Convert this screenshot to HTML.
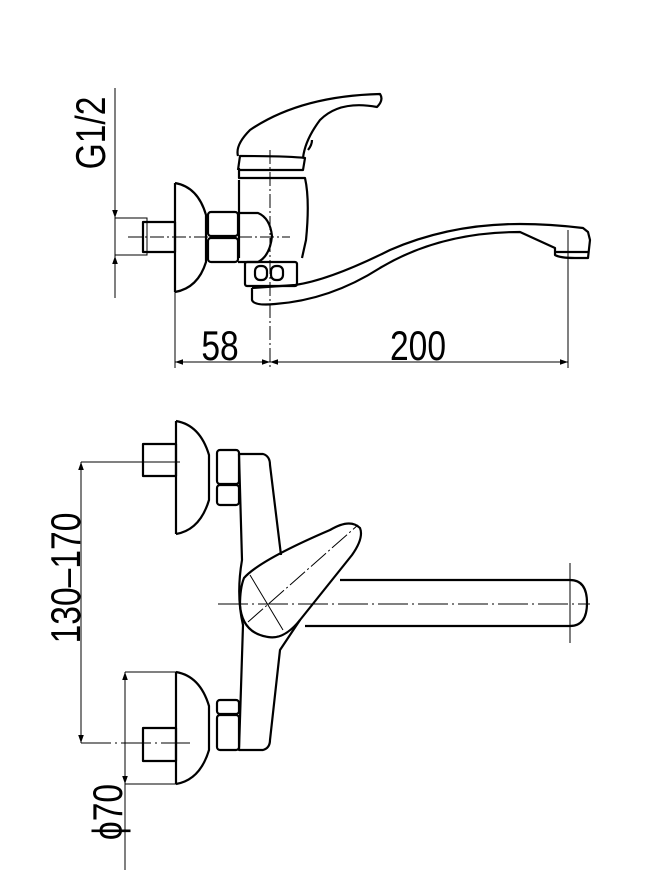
<!DOCTYPE html>
<html><head><style>html,body{margin:0;padding:0;background:#fff}svg{display:block}</style></head><body>
<svg width="670" height="894" viewBox="0 0 670 894" xmlns="http://www.w3.org/2000/svg" font-family="'Liberation Sans', sans-serif">
<defs>
<marker id="a" viewBox="0 0 10 10" refX="10" refY="5" markerWidth="14" markerHeight="8" markerUnits="userSpaceOnUse" orient="auto-start-reverse"><path d="M0,1.5L10,5L0,8.5z" fill="#000"/></marker>
</defs>
<g fill="none" stroke="#000" stroke-width="1">
<line x1="115" y1="88" x2="115" y2="298"/>
<line x1="115" y1="195" x2="115" y2="218" marker-end="url(#a)"/>
<line x1="115" y1="280" x2="115" y2="256" marker-end="url(#a)"/>
<rect x="115" y="218" width="32" height="37"/>
<line x1="128" y1="237" x2="290" y2="237" stroke-dasharray="14,3,2,3"/>
<line x1="270" y1="150" x2="270" y2="370" stroke-dasharray="14,3,2,3"/>
<line x1="175" y1="292" x2="175" y2="368"/>
<line x1="568" y1="230" x2="568" y2="368"/>
<line x1="175" y1="362" x2="270" y2="362" marker-start="url(#a)" marker-end="url(#a)"/>
<line x1="270" y1="362" x2="568" y2="362" marker-start="url(#a)" marker-end="url(#a)"/>
</g>
<g fill="none" stroke="#000" stroke-width="2.2" stroke-linejoin="round">
<rect x="143" y="222" width="32" height="30"/>
<path d="M175,183 L175,292 M175,183 Q198,187 206,215 L206,262 Q198,288 175,292"/>
<rect x="208" y="212" width="30" height="24" rx="3"/>
<rect x="208" y="238" width="30" height="24" rx="3"/>
<path d="M238,213 L258,213 Q270,218 272,236 Q270,256 258,262 L238,262"/>
<path d="M239,180 L239,258 M239,168 L239,178 L305,178 Q310,200 306,240 L302,258"/>
<path d="M240,170 L303,170 L305,158 Q290,156 240,156 L238,170"/>
<path d="M238,156 Q235,145 250,130 Q300,96 380,94 Q384,100 377,107 Q340,100 320,120 Q305,140 303,158"/>
<path d="M308,150 Q312,145 312,140"/>
<rect x="245" y="262" width="52" height="24" rx="2"/>
<rect x="255" y="266" width="12" height="14" rx="5"/>
<rect x="271" y="266" width="12" height="14" rx="5"/>
<path d="M252,288 L252,300 Q254,306 275,304 Q330,300 380,268 Q440,232 520,232 L555,248 L555,255 Q560,258 575,258 L588,258 L590,240 L588,232 L583,228 Q550,224 520,224 Q450,224 390,250 Q330,280 295,285 L252,288"/>
<path d="M555,252 L588,252"/>
<rect x="143" y="444" width="33" height="32"/>
<path d="M176,421 L176,534 M176,421 Q200,425 209,455 L209,500 Q200,530 176,534"/>
<rect x="217" y="450" width="22" height="34" rx="3"/>
<rect x="217" y="485" width="22" height="20" rx="3"/>
<path d="M239,454 L263,454 Q270,456 270,465 L281,555"/>
<path d="M239,454 L242,560 Q236,595 243,625 L239,750 L263,750 Q270,748 270,740 L280,650 L300,620"/>
<path d="M244,578 Q260,560 330,530 Q350,518 360,528 Q364,538 352,555 L300,620 Q284,640 268,637 Q242,633 240,605 Q240,588 244,578 Z"/>
<path d="M340,580 L570,580 Q587,580 587,603 Q587,626 570,626 L305,626"/>
<rect x="143" y="728" width="33" height="33"/>
<path d="M176,672 L176,784 M176,672 Q200,676 209,706 L209,750 Q200,780 176,784"/>
<rect x="217" y="700" width="22" height="14" rx="3"/>
<rect x="217" y="715" width="22" height="35" rx="3"/>
</g>
<g fill="none" stroke="#000" stroke-width="1">
<line x1="218" y1="604" x2="590" y2="604" stroke-dasharray="30,4,2,4"/>
<line x1="570" y1="563" x2="570" y2="643"/>
<line x1="250" y1="575" x2="283" y2="630"/>
<line x1="248" y1="622" x2="358" y2="525" stroke-dasharray="20,3,2,3"/>
<line x1="81" y1="462" x2="180" y2="462"/>
<line x1="81" y1="743" x2="190" y2="743" stroke-dasharray="30,4,2,4"/>
<line x1="81" y1="462" x2="81" y2="743" marker-start="url(#a)" marker-end="url(#a)"/>
<line x1="125" y1="672" x2="176" y2="672"/>
<line x1="125" y1="784" x2="176" y2="784"/>
<line x1="125" y1="672" x2="125" y2="870"/>
<line x1="125" y1="700" x2="125" y2="672" marker-end="url(#a)"/>
<line x1="125" y1="760" x2="125" y2="784" marker-end="url(#a)"/>
</g>
<g fill="#000" font-size="42">
<text transform="translate(220,360) scale(0.8,1)" text-anchor="middle">58</text>
<text transform="translate(418,360) scale(0.8,1)" text-anchor="middle">200</text>
<text transform="translate(105,133) rotate(-90) scale(0.8,1)" text-anchor="middle">G1/2</text>
<text transform="translate(80,578) rotate(-90) scale(0.8,1)" text-anchor="middle">130–170</text>
<text transform="translate(122,812) rotate(-90) scale(0.8,1)" text-anchor="middle">ϕ70</text>
</g>
</svg>
</body></html>
